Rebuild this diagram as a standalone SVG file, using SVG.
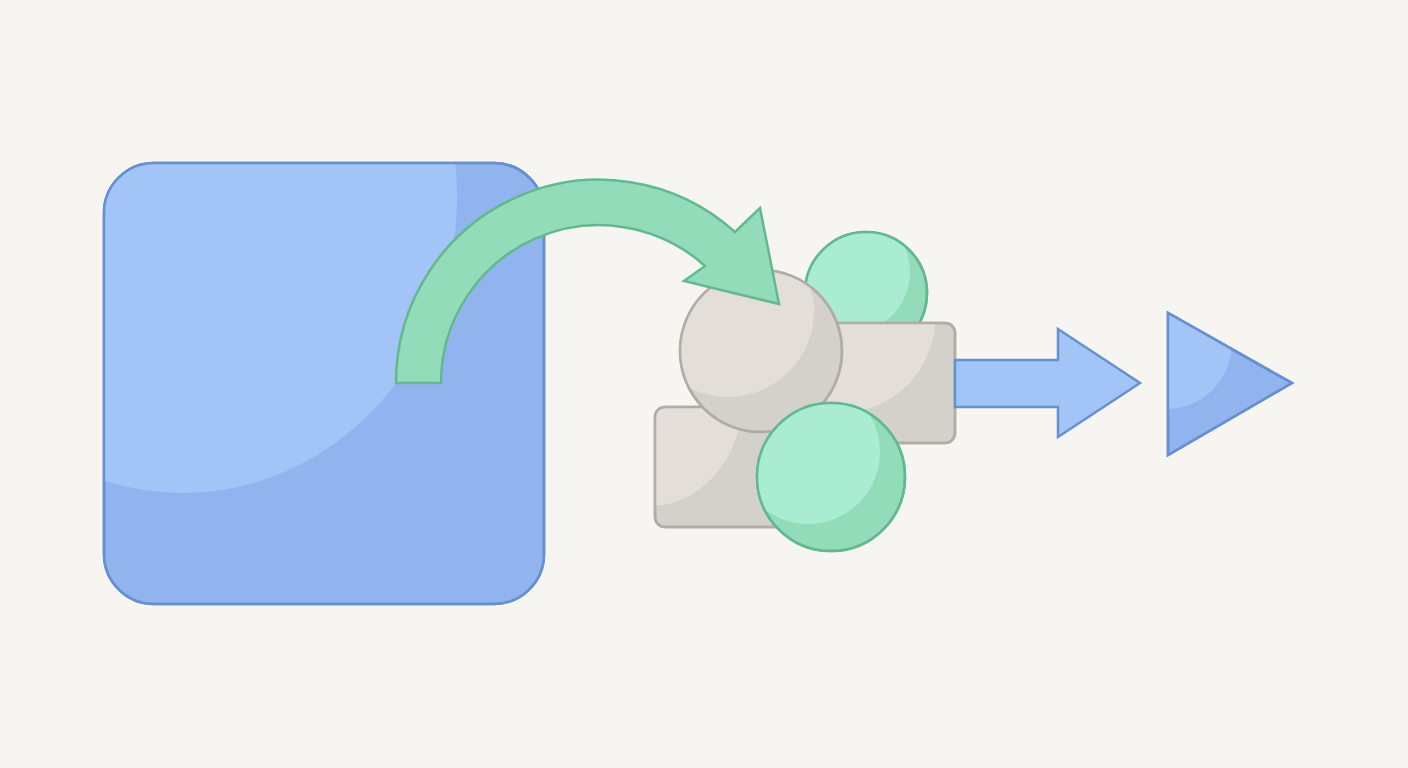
<svg xmlns="http://www.w3.org/2000/svg" width="1408" height="768" viewBox="0 0 1408 768">
<style>
.blue{fill:#92b4ee;stroke:#6690cf;stroke-width:2.5}
.blueHi{fill:#a3c4f7}
.blueLight{fill:#a3c4f7;stroke:#6690cf;stroke-width:2.5}
.gray{fill:#d4d0ca;stroke:#b1aca5;stroke-width:2.5}
.grayHi{fill:#e3dfd8}
.green{fill:#93dcb9;stroke:#63b98f;stroke-width:2.5}
.greenHi{fill:#a9ecd1}
.nostroke{fill:none}
</style>
<defs>
<clipPath id="cSquare"><rect x="104" y="163" width="440" height="441" rx="50"/></clipPath>
<clipPath id="cGrayCircle"><circle cx="761" cy="351" r="81"/></clipPath>
<clipPath id="cTopGreen"><circle cx="866" cy="293" r="61"/></clipPath>
<clipPath id="cRightRect"><rect x="800" y="323" width="155" height="120" rx="10"/></clipPath>
<clipPath id="cBotRect"><rect x="655" y="407" width="140" height="120" rx="10"/></clipPath>
<clipPath id="cBotGreen"><circle cx="831" cy="477" r="74"/></clipPath>
<clipPath id="cTri"><polygon points="1168,313 1168,455 1292,383"/></clipPath>
</defs>
<rect width="1408" height="768" fill="#f6f5f2"/>

<g id="blue-square">
<rect class="blue" x="104" y="163" width="440" height="441" rx="50"/>
<ellipse class="blueHi" cx="183" cy="197" rx="274" ry="296" clip-path="url(#cSquare)"/>
<rect class="nostroke" x="104" y="163" width="440" height="441" rx="50" stroke="#6690cf" stroke-width="2.5"/>
</g>

<g id="top-green-circle">
<circle class="green" cx="866" cy="293" r="61"/>
<circle class="greenHi" cx="848" cy="272" r="62" clip-path="url(#cTopGreen)"/>
<circle class="nostroke" cx="866" cy="293" r="61" stroke="#63b98f" stroke-width="2.5"/>
</g>

<g id="right-gray-rect">
<rect class="gray" x="800" y="323" width="155" height="120" rx="10"/>
<ellipse class="grayHi" cx="840" cy="318" rx="95" ry="95" clip-path="url(#cRightRect)"/>
<rect class="nostroke" x="800" y="323" width="155" height="120" rx="10" stroke="#b1aca5" stroke-width="2.5"/>
</g>

<g id="bottom-gray-rect">
<rect class="gray" x="655" y="407" width="140" height="120" rx="10"/>
<ellipse class="grayHi" cx="650" cy="400" rx="92" ry="106" clip-path="url(#cBotRect)"/>
<rect class="nostroke" x="655" y="407" width="140" height="120" rx="10" stroke="#b1aca5" stroke-width="2.5"/>
</g>

<g id="gray-circle">
<circle class="gray" cx="761" cy="351" r="81"/>
<circle class="grayHi" cx="728" cy="311" r="86" clip-path="url(#cGrayCircle)"/>
<circle class="nostroke" cx="761" cy="351" r="81" stroke="#b1aca5" stroke-width="2.5"/>
</g>

<g id="bottom-green-circle">
<circle class="green" cx="831" cy="477" r="74"/>
<circle class="greenHi" cx="808" cy="452" r="72" clip-path="url(#cBotGreen)"/>
<circle class="nostroke" cx="831" cy="477" r="74" stroke="#63b98f" stroke-width="2.5"/>
</g>

<g id="blue-triangle">
<polygon class="blue" points="1168,313 1168,455 1292,383"/>
<circle class="blueHi" cx="1166" cy="343" r="66" clip-path="url(#cTri)"/>
<polygon class="nostroke" points="1168,313 1168,455 1292,383" stroke="#6690cf" stroke-width="2.5"/>
</g>

<g id="connectors">
<path id="curved-arrow" class="green" d="M396,383 A203,203 0 0 1 735,232 L760,208 L779,304 L684,281 L705,266 A158,158 0 0 0 441,383 Z"/>
<polygon id="blue-arrow" class="blueLight" points="955,360 1058,360 1058,329 1140,383 1058,437 1058,407 955,407"/>
</g>
</svg>
